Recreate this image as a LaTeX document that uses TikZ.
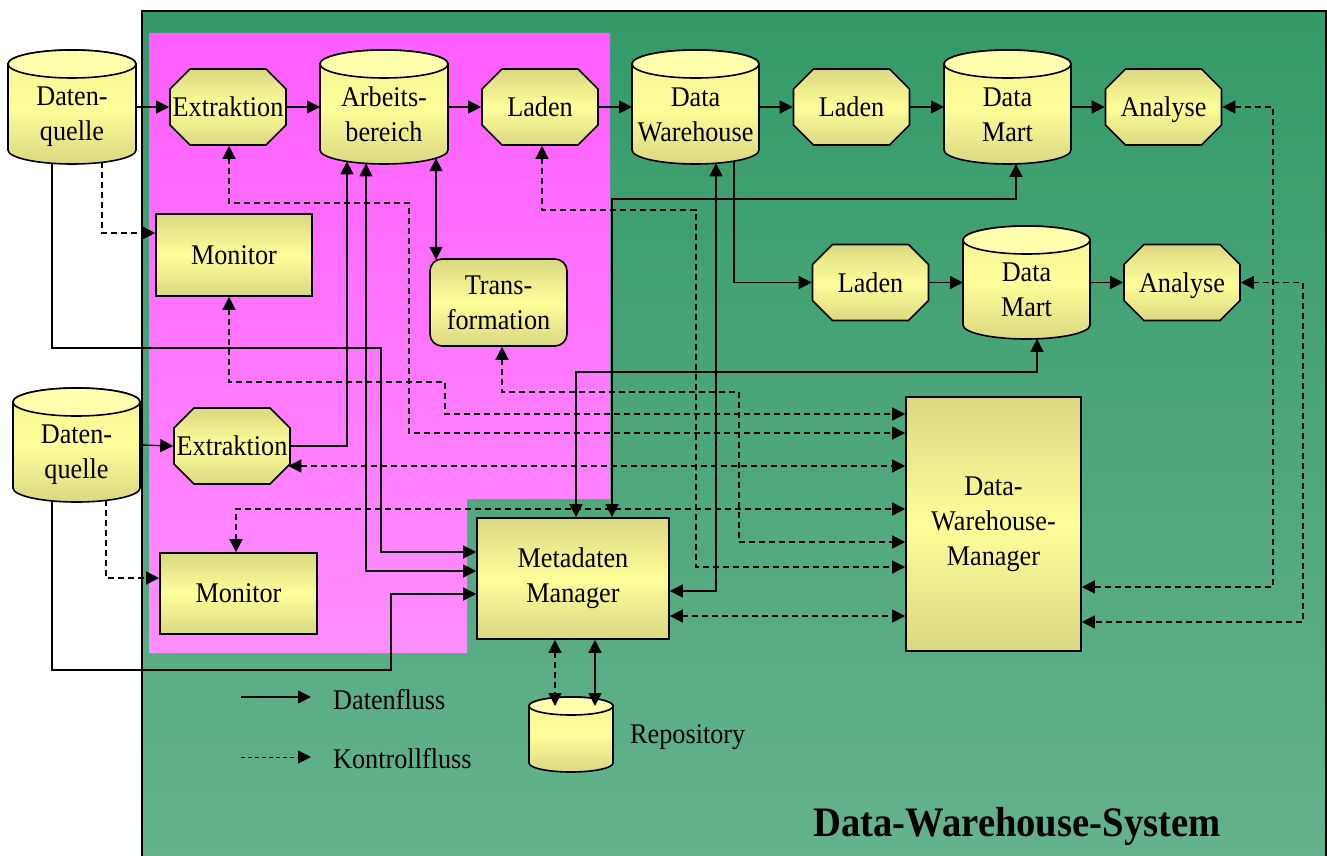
\documentclass[tikz,border=0pt]{standalone}
\usepackage{fontspec}
\setmainfont{Liberation Serif}[FakeStretch=0.92]
\usetikzlibrary{arrows.meta}

\definecolor{grtop}{HTML}{349A68}
\definecolor{grbot}{HTML}{66B38D}
\definecolor{mgtop}{HTML}{FF5EFF}
\definecolor{mgbot}{HTML}{FF8EFF}
\definecolor{ylo}{HTML}{DAD882}
\definecolor{yhi}{HTML}{FEFE9A}
\definecolor{ycap}{HTML}{FFFFAD}

\tikzset{
  basefont/.style={font=\fontsize{28.5}{35}\selectfont, text=black},
  yshade/.style={top color=ylo, bottom color=ylo, middle color=yhi},
  octshape/.style={draw, line width=1.6pt, yshade},
  octbox/.style={rectangle, inner sep=0pt, outer sep=0.8pt, minimum width=116pt, minimum height=76pt,
    basefont, text height=19pt, text depth=0pt},
  box/.style={rectangle, draw, line width=1.6pt, inner sep=0pt, yshade, basefont, align=center},
  cylbody/.style={draw, line width=1.6pt, top color=yhi!70!ylo, bottom color=ylo, middle color=yhi},
  cylcap/.style={draw, line width=1.6pt, fill=ycap},
  cylbox/.style={rectangle, inner sep=0pt, outer sep=0pt},
  cyltext/.style={basefont, align=center},
  flow/.style={line width=1.4pt, -{Triangle[length=13pt,width=13pt]}},
  flow2/.style={line width=1.4pt, {Triangle[length=13pt,width=13pt]}-{Triangle[length=13pt,width=13pt]}},
  ctl/.style={flow, dash pattern=on 6pt off 4pt},
  ctl2/.style={flow2, dash pattern=on 6pt off 4pt},
}

% #1 name, #2 x1, #3 y1, #4 x2, #5 y2, #6 ry
\newcommand\dbcyl[6]{%
  \pgfmathsetmacro\cyCX{(#2+#4)/2}%
  \pgfmathsetmacro\cyCY{(#3+#5)/2}%
  \pgfmathsetmacro\cyRX{(#4-#2)/2}%
  \pgfmathsetmacro\cyW{#4-#2}%
  \pgfmathsetmacro\cyH{#5-#3}%
  \pgfmathsetmacro\cyKX{0.5523*\cyRX}%
  \pgfmathsetmacro\cyKY{0.5523*#6}%
  \pgfmathsetmacro\cyTA{#3+#6}%
  \pgfmathsetmacro\cyBA{#5-#6}%
  \path[cylbody] (#2,\cyTA) -- (#2,\cyBA)
    .. controls (#2,\cyBA+\cyKY) and (\cyCX-\cyKX,#5) .. (\cyCX,#5)
    .. controls (\cyCX+\cyKX,#5) and (#4,\cyBA+\cyKY) .. (#4,\cyBA)
    -- (#4,\cyTA)
    .. controls (#4,\cyTA-\cyKY) and (\cyCX+\cyKX,#3) .. (\cyCX,#3)
    .. controls (\cyCX-\cyKX,#3) and (#2,\cyTA-\cyKY) .. (#2,\cyTA) -- cycle;
  \path[cylcap] (\cyCX,\cyTA) ellipse [x radius=\cyRX pt, y radius=#6 pt];
  \node[cylbox, minimum width=\cyW pt, minimum height=\cyH pt] (#1) at (\cyCX,\cyCY) {};
}

% #1 name, #2 cx, #3 cy, #4 text  (octagon 116 x 76, corner cut 20)
\newcommand\octnode[4]{%
  \path[octshape] (#2-38,#3-38) -- (#2+38,#3-38) -- (#2+58,#3-18) -- (#2+58,#3+18)
    -- (#2+38,#3+38) -- (#2-38,#3+38) -- (#2-58,#3+18) -- (#2-58,#3-18) -- cycle;
  \node[octbox] (#1) at (#2,#3) {#4};
}

\begin{document}
\begin{tikzpicture}[x=1pt,y=-1pt]
\useasboundingbox (0,0) rectangle (1327,856);

% backgrounds
\path[top color=grtop,bottom color=grbot,draw=black,line width=1.6pt] (142,11) rectangle (1326,880);
\path[top color=mgtop,bottom color=mgbot] (149,33) -- (610,33) -- (610,499) -- (467,499) -- (467,653) -- (149,653) -- cycle;

% cylinders
\dbcyl{dq1}{8}{50}{136}{164}{14}
\dbcyl{ab}{320}{50}{448}{164}{14}
\dbcyl{dw}{632}{50}{759}{164}{14}
\dbcyl{dm1}{944}{50}{1071}{164}{14}
\dbcyl{dm2}{963}{226}{1090}{339}{14}
\dbcyl{dq2}{13}{388}{140}{502}{14}
\dbcyl{rep}{529}{697}{613}{772}{9}

\node[cyltext] (dq1t) at (72,117) {Daten-\\quelle};
\node[cyltext] (abt) at (384,114) {Arbeits-\\bereich};
\node[cyltext] (dwt) at (695.5,114.5) {Data\\Warehouse};
\node[cyltext] (dm1t) at (1007.5,114.5) {Data\\Mart};
\node[cyltext] (dm2t) at (1026.5,290) {Data\\Mart};
\node[cyltext] (dq2t) at (76.5,455) {Daten-\\quelle};

% octagons
\octnode{ex1}{228}{107}{Extraktion}
\octnode{la1}{540}{107}{Laden}
\octnode{la2}{851.5}{107}{Laden}
\octnode{an1}{1163.5}{107}{Analyse}
\octnode{la3}{870.5}{282.5}{Laden}
\octnode{an2}{1182}{282.5}{Analyse}
\octnode{ex2}{232}{446}{Extraktion}

% boxes
\node[box, minimum width=156pt, minimum height=82pt] (mo1) at (234,255) {Monitor};
\node[box, minimum width=157pt, minimum height=81pt] (mo2) at (238.5,593.5) {Monitor};
\node[box, minimum width=137pt, minimum height=87pt, rounded corners=12pt] (tr) at (498.5,302.5) {Trans-\\formation};
\node[box, minimum width=192pt, minimum height=121pt] (mm) at (573,578.5) {Metadaten\\Manager};
\node[box, minimum width=175pt, minimum height=254pt] (dwm) at (993.5,524) {Data-\\Warehouse-\\Manager};

% data flow
\draw[flow] (dq1.east) -- (ex1.west);
\draw[flow] (ex1.east) -- (ab.west);
\draw[flow] (ab.east) -- (la1.west);
\draw[flow] (la1.east) -- (dw.west);
\draw[flow] (dw.east) -- (la2.west);
\draw[flow] (la2.east) -- (dm1.west);
\draw[flow] (dm1.east) -- (an1.west);
\draw[flow] (la3.east) -- (dm2.west);
\draw[flow] (dm2.east) -- (an2.west);
\draw[flow] (dq2.east) -- (ex2.west);
\draw[flow] ([yshift=2.9pt]dw.south -| 734,0) |- (la3.west);
\draw[flow] (ex2.east) -| ([yshift=2.6pt]ab.south -| 347,0);
\draw[flow2] ([yshift=0.6pt]ab.south -| 366,0) |- (mm.west |- 0,571);
\draw[flow] ([yshift=0.7pt]dq1.south -| 52,0) |- (381,348) |- (mm.west |- 0,552);
\draw[flow] ([yshift=1.1pt]dq2.south -| 52,0) |- (391,670) |- (mm.west |- 0,594);
\draw[flow2] ([yshift=5.8pt]ab.south -| 436,0) -- ([yshift=-1.6pt]tr.north -| 436,0);
\draw[flow2] (mm.north -| 576,0) |- (1037,372) -- ([yshift=0.2pt]dm2.south -| 1037,0);
\draw[flow2] (mm.north -| 612,0) |- (1016,199) -- ([yshift=0.1pt]dm1.south -| 1016,0);
\draw[flow2] ([yshift=0.75pt]dw.south -| 716,0) |- (mm.east |- 0,591);
\draw[flow2] (mm.south -| 595,0) -- ([yshift=-9pt]rep.north -| 595,0);

% control flow
\draw[ctl] ([yshift=1.6pt]dq1.south -| 102,0) |- (mo1.west |- 0,233);
\draw[ctl] ([yshift=1.6pt]dq2.south -| 106,0) |- (mo2.west |- 0,578);
\draw[ctl2] (ex1.south -| 229,0) |- (409,203) |- (dwm.west |- 0,433);
\draw[ctl2] (mo1.south -| 229,0) |- (445,382) |- (dwm.west |- 0,414);
\draw[ctl2] ([xshift=-2.5pt]ex2.east |- 0,466) -- (dwm.west |- 0,466);
\draw[ctl2] (mo2.north -| 236,0) |- (dwm.west |- 0,509);
\draw[ctl2] (la1.south -| 542,0) |- (696,210) |- (dwm.west |- 0,567);
\draw[ctl2] (tr.south -| 502,0) |- (739,392) |- (dwm.west |- 0,542);
\draw[ctl2] (mm.east |- 0,616) -- (dwm.west |- 0,616);
\draw[ctl2] (an1.east) -| (1273,587) -- (dwm.east |- 0,587);
\draw[ctl2] (an2.east) -| (1303,622) -- (dwm.east |- 0,622);
\draw[ctl2] (mm.south -| 555,0) -- ([yshift=-9pt]rep.north -| 555,0);

% legend
\coordinate (lgs1) at (241,697);
\coordinate (lge1) at (311,697);
\coordinate (lgs2) at (241,757);
\coordinate (lge2) at (311,757);
\draw[flow] (lgs1) -- (lge1);
\draw[ctl, line width=1pt, dash pattern=on 4pt off 3pt] (lgs2) -- (lge2);
\node[basefont, anchor=base west, inner sep=0pt] (lgt1) at (333,709) {Datenfluss};
\node[basefont, anchor=base west, inner sep=0pt] (lgt2) at (333,768) {Kontrollfluss};
\node[basefont, anchor=base west, inner sep=0pt] (rept) at (630,743) {Repository};
\node[font=\fontsize{42}{48}\selectfont\bfseries, anchor=base, inner sep=0pt] (title) at (1017,836) {Data-Warehouse-System};
\end{tikzpicture}
\end{document}
